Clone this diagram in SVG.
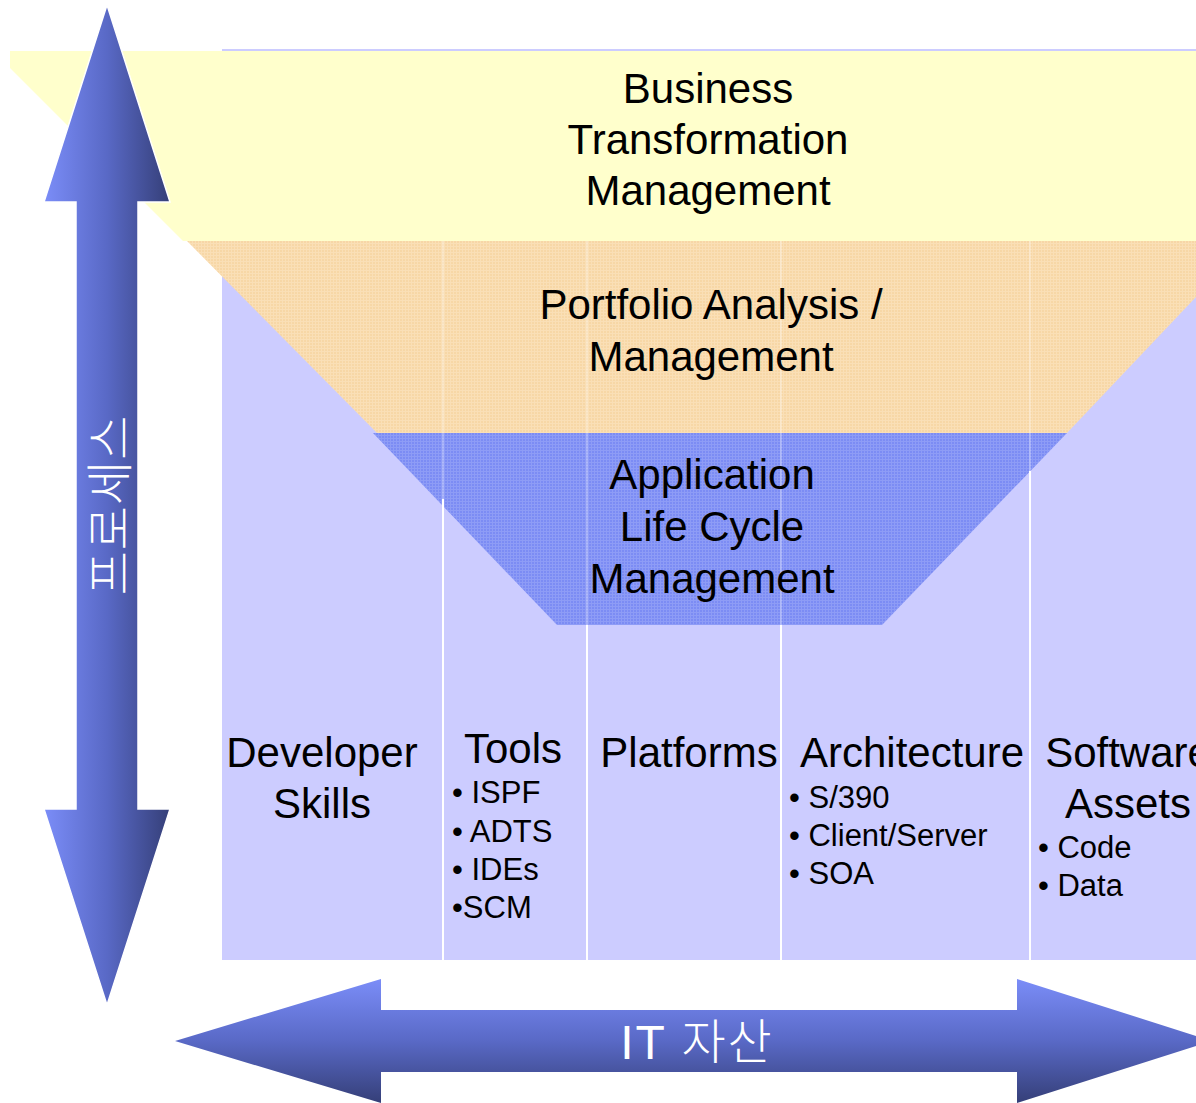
<svg xmlns="http://www.w3.org/2000/svg" width="1196" height="1103" viewBox="0 0 1196 1103">
  <defs>
    <linearGradient id="gv" x1="0" y1="0" x2="1" y2="0">
      <stop offset="0" stop-color="#7B8DF8"/>
      <stop offset="0.5" stop-color="#5969C6"/>
      <stop offset="1" stop-color="#353F78"/>
    </linearGradient>
    <linearGradient id="gh" x1="0" y1="0" x2="0" y2="1">
      <stop offset="0" stop-color="#7B8DF8"/>
      <stop offset="0.5" stop-color="#5969C6"/>
      <stop offset="1" stop-color="#353F78"/>
    </linearGradient>
    <pattern id="porange" width="3" height="3" patternUnits="userSpaceOnUse">
      <rect width="3" height="3" fill="#F7D7A6"/>
      <rect width="3" height="1" fill="#FADFB6"/>
      <rect width="1" height="3" fill="#FADFB6"/>
    </pattern>
    <pattern id="pblue" width="3" height="3" patternUnits="userSpaceOnUse">
      <rect width="3" height="3" fill="#7C8CF4"/>
      <rect width="3" height="1" fill="#8E9CF6"/>
      <rect width="1" height="3" fill="#8E9CF6"/>
    </pattern>
  </defs>
  <style>
    .lbl { font-family: "Liberation Sans", Arial, sans-serif; fill: #000; }
    .big { font-size: 42px; text-anchor: middle; }
    .sm { font-size: 31px; }
    .sep { stroke: #FFFFFF; stroke-width: 2; }
    .sepf { stroke: #FFFFFF; stroke-width: 2; stroke-opacity: 0.3; }
    .wt { font-family: "Liberation Sans", "Noto Sans CJK KR", sans-serif; fill: #FFFFFF; }
  </style>

  <rect width="1196" height="1103" fill="#FFFFFF"/>

  <g id="background-columns">
    <rect x="222" y="49" width="974" height="911" fill="#CCCCFF"/>
  </g>

  <g id="band-business">
    <polygon points="10,51 1196,51 1196,241 183,241 10,68" fill="#FFFFCC"/>
  </g>
  <g id="band-portfolio">
    <polygon points="187,241 1196,241 1196,297 1067,433 377,433" fill="url(#porange)"/>
  </g>
  <g id="band-alm">
    <polygon points="373,433 1067,433 882,625 557,625" fill="url(#pblue)"/>
  </g>

  <g id="separators">
    <line class="sepf" x1="443" y1="241" x2="443" y2="499"/>
    <line class="sep" x1="443" y1="499" x2="443" y2="960"/>
    <line class="sepf" x1="587" y1="241" x2="587" y2="625"/>
    <line class="sep" x1="587" y1="625" x2="587" y2="960"/>
    <line class="sepf" x1="781" y1="241" x2="781" y2="625"/>
    <line class="sep" x1="781" y1="625" x2="781" y2="960"/>
    <line class="sepf" x1="1030" y1="241" x2="1030" y2="471"/>
    <line class="sep" x1="1030" y1="471" x2="1030" y2="960"/>
  </g>

  <g id="band-labels">
    <text class="lbl big"><tspan x="708" y="103">Business</tspan><tspan x="708" y="154">Transformation</tspan><tspan x="708" y="205">Management</tspan></text>
    <text class="lbl big"><tspan x="711" y="319">Portfolio Analysis /</tspan><tspan x="711" y="371">Management</tspan></text>
    <text class="lbl big"><tspan x="712" y="489">Application</tspan><tspan x="712" y="541">Life Cycle</tspan><tspan x="712" y="593">Management</tspan></text>
  </g>

  <g id="col-developer">
    <text class="lbl big"><tspan x="322" y="767">Developer</tspan><tspan x="322" y="818">Skills</tspan></text>
  </g>
  <g id="col-tools">
    <text class="lbl big" x="513" y="763">Tools</text>
    <text class="lbl sm"><tspan x="452" y="803">• ISPF</tspan><tspan x="452" y="842">• ADTS</tspan><tspan x="452" y="880">• IDEs</tspan><tspan x="452" y="918">•SCM</tspan></text>
  </g>
  <g id="col-platforms">
    <text class="lbl big" x="689" y="767">Platforms</text>
  </g>
  <g id="col-architecture">
    <text class="lbl big" x="912" y="767">Architecture</text>
    <text class="lbl sm"><tspan x="789" y="808">• S/390</tspan><tspan x="789" y="846">• Client/Server</tspan><tspan x="789" y="884">• SOA</tspan></text>
  </g>
  <g id="col-software">
    <text class="lbl big"><tspan x="1128" y="767">Software</tspan><tspan x="1128" y="818">Assets</tspan></text>
    <text class="lbl sm"><tspan x="1038" y="858">• Code</tspan><tspan x="1038" y="896">• Data</tspan></text>
  </g>

  <g id="arrow-process">
    <polygon points="107,5 170,202 138,202 138,809 170,809 107,1005 44,809 76,809 76,202 44,202" fill="url(#gv)" stroke="#FFFFFF" stroke-width="1.5" stroke-linejoin="miter"/>
    <text class="wt" transform="translate(110,505) rotate(-90)" font-size="48" font-weight="300" letter-spacing="1" text-anchor="middle" dominant-baseline="central">프로세스</text>
  </g>

  <g id="arrow-it-assets">
    <polygon points="175,1041 381,979 381,1010 1017,1010 1017,979 1212,1041 1017,1103 1017,1072 381,1072 381,1103" fill="url(#gh)"/>
    <text class="wt" x="697" y="1059" font-size="48" font-weight="300" letter-spacing="2" text-anchor="middle">IT 자산</text>
  </g>
</svg>
